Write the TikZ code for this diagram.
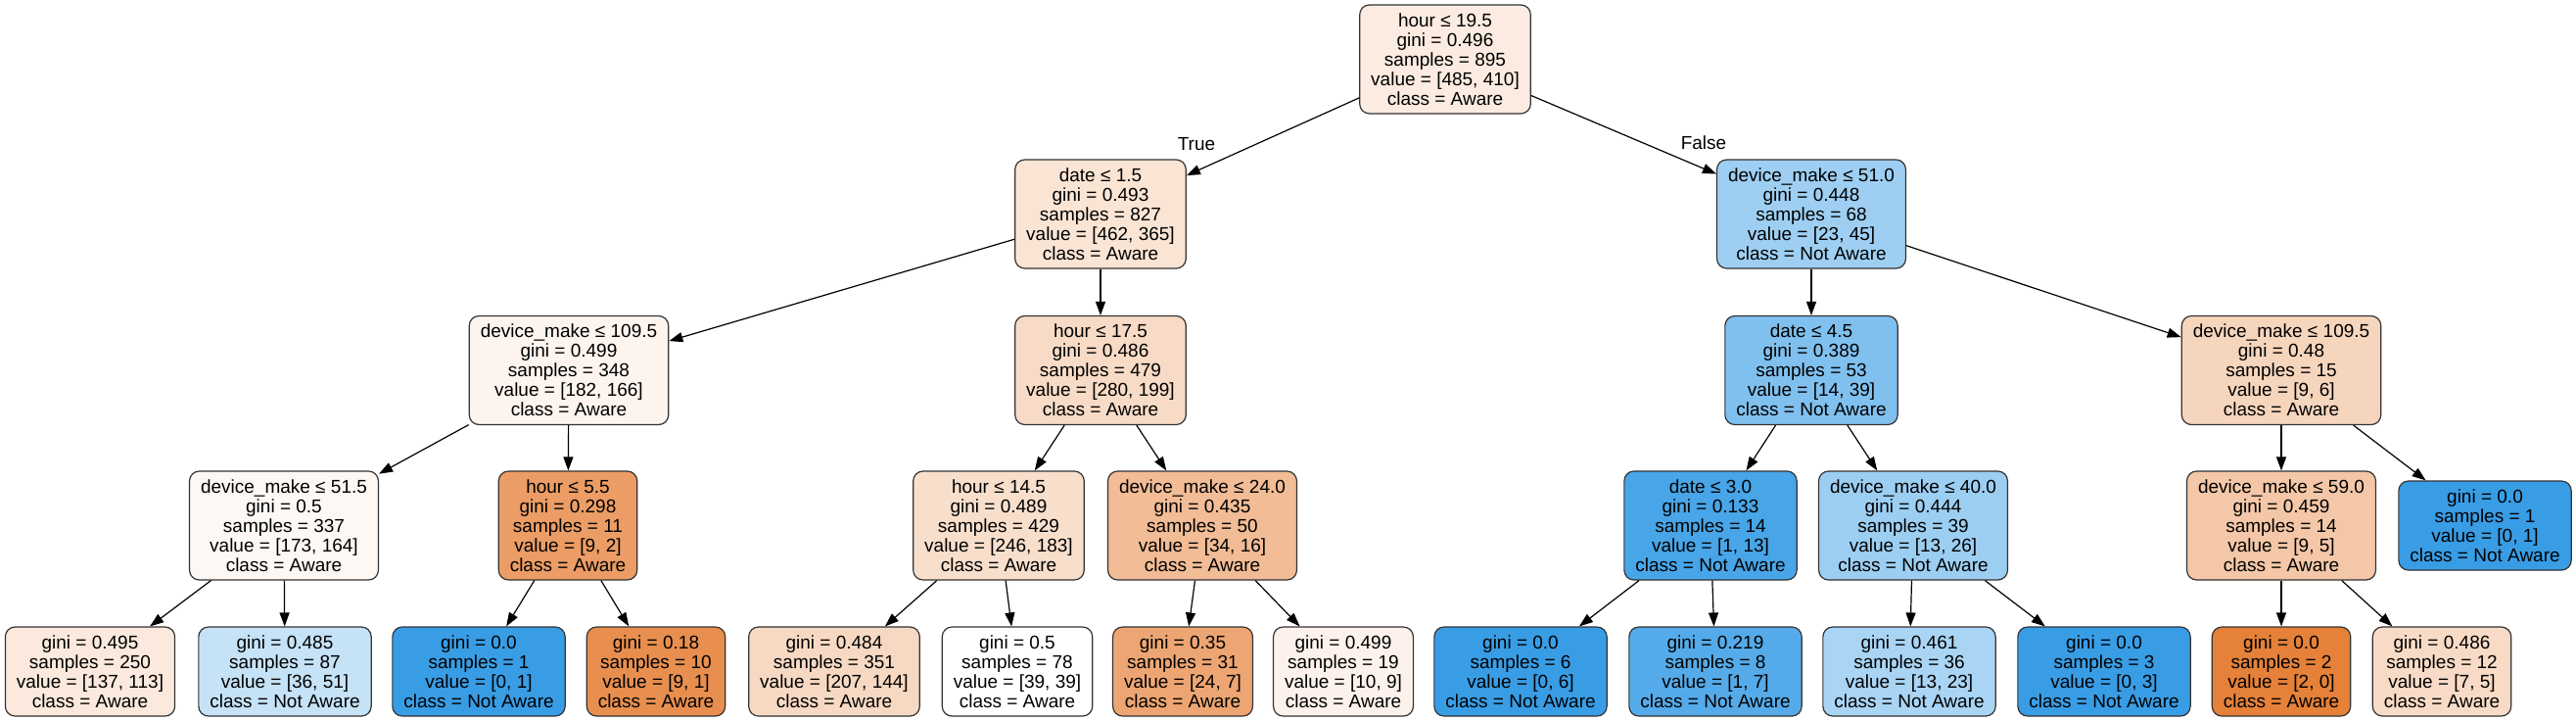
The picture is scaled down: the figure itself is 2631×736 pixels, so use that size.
\documentclass[tikz,border=0pt]{standalone}
\usepackage{fontspec}
\usetikzlibrary{arrows.meta}
\newfontfamily\libsans{Liberation Sans}
\newcommand\treefont{\libsans\fontsize{19}{20}\selectfont}
\definecolor{sko}{RGB}{229,129,57}
\definecolor{skb}{RGB}{57,157,229}
\tikzset{
  box/.style={draw=black!80, line width=1.2pt, rounded corners=10pt, align=center,
    inner xsep=11.5pt, inner ysep=0pt, font=\treefont, text=black},
  split/.style={box, minimum height=111pt},
  leaf/.style={box, minimum height=91pt},
  edge/.style={-{Triangle[length=14pt,width=10pt]}, line width=1.2pt, black},
  lbl/.style={font=\treefont, inner sep=0pt}
}
\begin{document}
\begin{tikzpicture}[x=1pt,y=1pt]
\fill[white] (0,0) rectangle (2631,-736);
\useasboundingbox (0,0) rectangle (2631,-736);
% level 0
\node[split, fill=sko!15.5!white] (n0) at (1476,-60.5) {hour ≤ 19.5\\gini = 0.496\\samples = 895\\value = [485, 410]\\class = Aware};
% level 1
\node[split, fill=sko!21!white] (n1) at (1124,-218.5) {date ≤ 1.5\\gini = 0.493\\samples = 827\\value = [462, 365]\\class = Aware};
\node[split, fill=skb!48.9!white] (n16) at (1850,-218.5) {device\_make ≤ 51.0\\gini = 0.448\\samples = 68\\value = [23, 45]\\class = Not Aware};
% level 2
\node[split, fill=sko!8.8!white] (n2) at (581,-378) {device\_make ≤ 109.5\\gini = 0.499\\samples = 348\\value = [182, 166]\\class = Aware};
\node[split, fill=sko!28.9!white] (n9) at (1124,-378) {hour ≤ 17.5\\gini = 0.486\\samples = 479\\value = [280, 199]\\class = Aware};
\node[split, fill=skb!64.1!white] (n17) at (1850,-378) {date ≤ 4.5\\gini = 0.389\\samples = 53\\value = [14, 39]\\class = Not Aware};
\node[split, fill=sko!33.3!white] (n24) at (2330,-378) {device\_make ≤ 109.5\\gini = 0.48\\samples = 15\\value = [9, 6]\\class = Aware};
% level 3
\node[split, fill=sko!5.2!white] (n3) at (290,-536.5) {device\_make ≤ 51.5\\gini = 0.5\\samples = 337\\value = [173, 164]\\class = Aware};
\node[split, fill=sko!77.8!white] (n6) at (580,-536.5) {hour ≤ 5.5\\gini = 0.298\\samples = 11\\value = [9, 2]\\class = Aware};
\node[split, fill=sko!25.6!white] (n10) at (1020,-536.5) {hour ≤ 14.5\\gini = 0.489\\samples = 429\\value = [246, 183]\\class = Aware};
\node[split, fill=sko!52.9!white] (n13) at (1228,-536.5) {device\_make ≤ 24.0\\gini = 0.435\\samples = 50\\value = [34, 16]\\class = Aware};
\node[split, fill=skb!92.3!white] (n18) at (1747,-536.5) {date ≤ 3.0\\gini = 0.133\\samples = 14\\value = [1, 13]\\class = Not Aware};
\node[split, fill=skb!50!white] (n21) at (1954,-536.5) {device\_make ≤ 40.0\\gini = 0.444\\samples = 39\\value = [13, 26]\\class = Not Aware};
\node[split, fill=sko!44.4!white] (n25) at (2330,-536.5) {device\_make ≤ 59.0\\gini = 0.459\\samples = 14\\value = [9, 5]\\class = Aware};
\node[leaf, fill=skb] (n28) at (2538,-536.5) {gini = 0.0\\samples = 1\\value = [0, 1]\\class = Not Aware};
% level 4 (leaves)
\node[leaf, fill=sko!17.5!white] (n4) at (92,-685.5) {gini = 0.495\\samples = 250\\value = [137, 113]\\class = Aware};
\node[leaf, fill=skb!29.4!white] (n5) at (291,-685.5) {gini = 0.485\\samples = 87\\value = [36, 51]\\class = Not Aware};
\node[leaf, fill=skb] (n7) at (489,-685.5) {gini = 0.0\\samples = 1\\value = [0, 1]\\class = Not Aware};
\node[leaf, fill=sko!88.9!white] (n8) at (670,-685.5) {gini = 0.18\\samples = 10\\value = [9, 1]\\class = Aware};
\node[leaf, fill=sko!30.4!white] (n11) at (852,-685.5) {gini = 0.484\\samples = 351\\value = [207, 144]\\class = Aware};
\node[leaf, fill=white] (n12) at (1039,-685.5) {gini = 0.5\\samples = 78\\value = [39, 39]\\class = Aware};
\node[leaf, fill=sko!70.8!white] (n14) at (1208,-685.5) {gini = 0.35\\samples = 31\\value = [24, 7]\\class = Aware};
\node[leaf, fill=sko!10!white] (n15) at (1372,-685.5) {gini = 0.499\\samples = 19\\value = [10, 9]\\class = Aware};
\node[leaf, fill=skb] (n19) at (1553,-685.5) {gini = 0.0\\samples = 6\\value = [0, 6]\\class = Not Aware};
\node[leaf, fill=skb!85.7!white] (n20) at (1752,-685.5) {gini = 0.219\\samples = 8\\value = [1, 7]\\class = Not Aware};
\node[leaf, fill=skb!43.5!white] (n22) at (1950,-685.5) {gini = 0.461\\samples = 36\\value = [13, 23]\\class = Not Aware};
\node[leaf, fill=skb] (n23) at (2149,-685.5) {gini = 0.0\\samples = 3\\value = [0, 3]\\class = Not Aware};
\node[leaf, fill=sko] (n26) at (2330,-685.5) {gini = 0.0\\samples = 2\\value = [2, 0]\\class = Aware};
\node[leaf, fill=sko!28.6!white] (n27) at (2494,-685.5) {gini = 0.486\\samples = 12\\value = [7, 5]\\class = Aware};
% edge labels
\node[lbl] (lt) at (1222,-147) {True};
\node[lbl] (lf) at (1740,-146) {False};
% edges
\foreach \a/\b in {n0/n1,n0/n16,n1/n2,n1/n9,n2/n3,n2/n6,n3/n4,n3/n5,n6/n7,n6/n8,
  n9/n10,n9/n13,n10/n11,n10/n12,n13/n14,n13/n15,n16/n17,n16/n24,n17/n18,n17/n21,
  n18/n19,n18/n20,n21/n22,n21/n23,n24/n25,n24/n28,n25/n26,n25/n27}
  \draw[edge] (\a) -- (\b);
\end{tikzpicture}
\end{document}
